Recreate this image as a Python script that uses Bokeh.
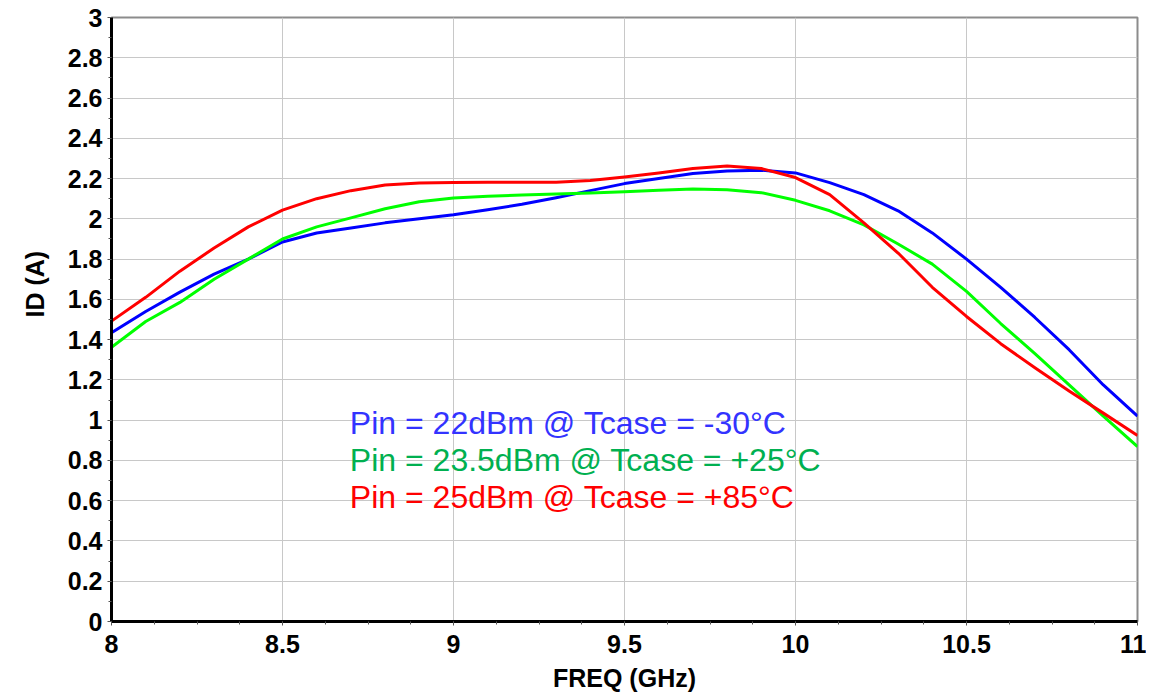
import math
from bokeh.plotting import figure
from bokeh.models import Label, FixedTicker, Range1d, Title
from bokeh.embed import file_html
from bokeh.resources import INLINE

freq = [8.0, 8.1, 8.2, 8.3, 8.4, 8.5, 8.6, 8.7, 8.8, 8.9, 9.0, 9.1, 9.2, 9.3, 9.4, 9.5,
        9.6, 9.7, 9.8, 9.9, 10.0, 10.1, 10.2, 10.3, 10.4, 10.5, 10.6, 10.7, 10.8, 10.9, 11.0]

id_m30 = [1.434, 1.54, 1.636, 1.725, 1.80, 1.885, 1.93, 1.955, 1.98, 2.00, 2.02, 2.045,
          2.072, 2.105, 2.14, 2.175, 2.20, 2.225, 2.238, 2.241, 2.228, 2.18, 2.12, 2.04,
          1.93, 1.80, 1.66, 1.51, 1.35, 1.175, 1.02]

id_p25 = [1.362, 1.49, 1.585, 1.70, 1.80, 1.90, 1.96, 2.005, 2.05, 2.085, 2.104, 2.112,
          2.118, 2.123, 2.128, 2.134, 2.142, 2.148, 2.145, 2.13, 2.092, 2.04, 1.97, 1.875,
          1.775, 1.64, 1.48, 1.33, 1.175, 1.02, 0.869]

id_p85 = [1.492, 1.61, 1.74, 1.855, 1.96, 2.043, 2.10, 2.14, 2.168, 2.178, 2.181, 2.182,
          2.182, 2.182, 2.19, 2.208, 2.228, 2.25, 2.262, 2.25, 2.205, 2.12, 1.98, 1.83,
          1.66, 1.515, 1.38, 1.26, 1.145, 1.035, 0.924]

series_labels = ["Pin = 22dBm @ Tcase = -30°C",
                 "Pin = 23.5dBm @ Tcase = +25°C",
                 "Pin = 25dBm @ Tcase = +85°C"]
line_colors = ["#0000FF", "#00FF00", "#FF0000"]
text_colors = ["#3333FF", "#00B050", "#FF0000"]

x_ticks = [8, 8.5, 9, 9.5, 10, 10.5, 11]
y_ticks = [0, 0.2, 0.4, 0.6, 0.8, 1, 1.2, 1.4, 1.6, 1.8, 2, 2.2, 2.4, 2.6, 2.8, 3]
x_minor = [8 + 0.125 * i for i in range(25)]
y_minor = [0.1 * i for i in range(31)]

FONT = "Liberation Sans"

p = figure(width=1146, height=694, output_backend="svg", toolbar_location=None,
           x_range=Range1d(8, 11), y_range=Range1d(0, 3),
           min_border_left=111, min_border_right=9, min_border_top=17, min_border_bottom=72)

p.background_fill_color = "white"
p.border_fill_color = "white"
p.outline_line_color = "#8C8C8C"
p.outline_line_width = 2

for ys, c in zip([id_m30, id_p25, id_p85], line_colors):
    p.line(freq, ys, line_color=c, line_width=3, line_join="round")

p.xaxis.ticker = FixedTicker(ticks=x_ticks, minor_ticks=x_minor)
p.yaxis.ticker = FixedTicker(ticks=y_ticks, minor_ticks=y_minor)
p.xaxis.major_label_overrides = {8: "8", 8.5: "8.5", 9: "9", 9.5: "9.5", 10: "10", 10.5: "10.5", 11: "11"}
p.yaxis.major_label_overrides = {0: "0", 1: "1", 2: "2", 3: "3"}

for ax in (p.xaxis[0], p.yaxis[0]):
    ax.axis_line_color = "black"
    ax.axis_line_width = 3
    ax.major_tick_in = 0
    ax.major_tick_out = 4
    ax.minor_tick_in = 0
    ax.minor_tick_out = 3
    ax.major_tick_line_color = "#555555"
    ax.minor_tick_line_color = "#555555"
    ax.major_label_text_font = FONT
    ax.major_label_text_font_style = "bold"
    ax.major_label_text_font_size = "25px"
    ax.major_label_text_color = "black"
    ax.axis_label_text_font = FONT
    ax.axis_label_text_font_style = "bold"
    ax.axis_label_text_font_size = "25px"
    ax.axis_label_text_color = "black"

p.xaxis.major_label_standoff = 9
p.yaxis.major_label_standoff = 5
p.xaxis.axis_label = "FREQ (GHz)"
p.xaxis.axis_label_standoff = 8

p.xgrid.grid_line_color = "#C8C8C8"
p.ygrid.grid_line_color = "#C8C8C8"
p.xgrid.grid_line_width = 1
p.ygrid.grid_line_width = 1

# y-axis title as a side title, placed a little above the frame centre
p.add_layout(Title(text="ID (A)", align="left", offset=304, standoff=31,
                   text_font=FONT, text_font_style="bold", text_font_size="25px",
                   text_color="black"), "left")

label_y = [0.987, 0.80, 0.62]
for t, c, yy in zip(series_labels, text_colors, label_y):
    p.add_layout(Label(x=8.697, y=yy, text=t, text_align="left", text_baseline="middle",
                       text_font=FONT, text_font_size="32px", text_color=c))

open("out.html", "w").write(file_html(p, INLINE))
